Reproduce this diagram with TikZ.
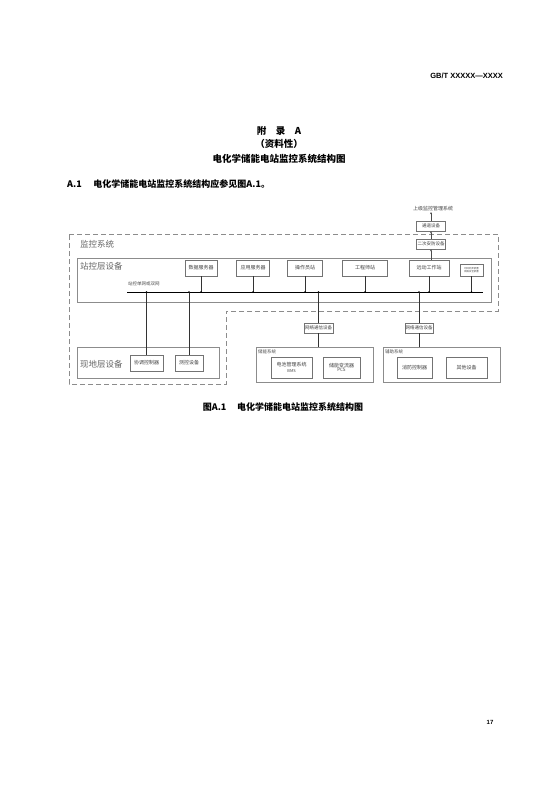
\documentclass[tikz,border=0pt]{standalone}
\usepackage{fontspec}
\setmainfont{Noto Sans CJK SC}
\newfontfamily\hdfont{Liberation Sans}
\usetikzlibrary{arrows.meta}
\begin{document}
\begin{tikzpicture}[
	x=1pt, y=-1pt,
	box/.style={ draw=black!55, thin, inner sep=0pt, align=center, text=black!75, font=\fontsize{5}{5.5}\selectfont },
	layer/.style={ draw=black!45, thin, inner sep=0pt },
	layertext/.style={ anchor=west, inner sep=0pt, text=black!60, font=\fontsize{8.5}{9}\selectfont },
	small/.style={ anchor=west, inner sep=0pt, text=black!70, font=\fontsize{4.5}{5}\selectfont },
	dot/.style={ circle, fill, inner sep=0pt, minimum size=1.8pt },
	link/.style={ black!80, semithick },
	up/.style={ black!70, thin, -{Stealth[length=2.2pt,width=2pt]} }
]
\useasboundingbox (0,0) rectangle (557,786);

% page text
\node at (503,76) (header) [anchor=east, inner sep=0pt, font=\hdfont\bfseries\fontsize{7.5}{8}\selectfont] {GB/T XXXXX—XXXX};
\node at (279,131) (appx) [font=\bfseries\fontsize{9.5}{10}\selectfont] {附\quad 录\quad A};
\node at (279,144) (kind) [font=\bfseries\fontsize{9.5}{10}\selectfont] {（资料性）};
\node at (279,159) (title) [font=\bfseries\fontsize{9.5}{10}\selectfont] {电化学储能电站监控系统结构图};
\node at (67,184) (clause) [anchor=west, inner sep=0pt, font=\bfseries\fontsize{9}{10}\selectfont] {A.1\hspace{1.3em}电化学储能电站监控系统结构应参见图A.1。};
\node at (283,407) (caption) [font=\bfseries\fontsize{9}{10}\selectfont] {图A.1\hspace{1.2em}电化学储能电站监控系统结构图};
\node at (490,722) (pageno) [font=\hdfont\bfseries\fontsize{6}{7}\selectfont] {17};

% monitoring system region
\draw[black!45, thin, dash pattern=on 5pt off 3pt] (69,234) -- (498,234) -- (498,311) -- (226,311) -- (226,384) -- (69,384) -- cycle;
\node at (80,244) (jkxt) [layertext] {监控系统};

% upper link
\node at (433,209) (shangji) [inner sep=0.5pt, text=black!75, font=\fontsize{5}{5.5}\selectfont] {上级监控管理系统};
\node at (431,226) (tongdao) [box, minimum width=29pt, minimum height=10pt, font=\fontsize{4.5}{5}\selectfont] {通道设备};
\node at (431,244) (anfang) [box, minimum width=29pt, minimum height=10pt, font=\fontsize{4.5}{5}\selectfont] {二次安防设备};

% station layer
\node at (284,280) (zhankong) [layer, minimum width=414pt, minimum height=44pt] {};
\node at (80,266) (zkcsb) [layertext] {站控层设备};
\node at (201,268) (shuju) [box, minimum width=32pt, minimum height=16pt] {数据服务器};
\node at (253,268) (yingyong) [box, minimum width=33pt, minimum height=16pt] {应用服务器};
\node at (305,268) (caozuo) [box, minimum width=35pt, minimum height=16pt] {操作员站};
\node at (365,268) (gongcheng) [box, minimum width=45pt, minimum height=16pt] {工程师站};
\node at (429,268) (yuandong) [box, minimum width=40pt, minimum height=16pt] {远动工作站};
\node at (471.5,270) (duishi) [box, minimum width=23pt, minimum height=12pt, font=\fontsize{2.4}{3}\selectfont] {时间同步装置\\网络安全装置};
\node at (128,284) (wangname) [small] {站控单网或双网};

\coordinate (busw) at (127,292);
\coordinate (buse) at (483,292);
\draw[black, line width=0.9pt] (busw) -- (buse);

\foreach \n in {shuju,yingyong,caozuo,gongcheng,yuandong,duishi} {
	\draw[link] (\n.south) -- (\n.south |- busw);
	\node at (\n.south |- busw) [dot] {};
}

\draw[up] (anfang.south |- yuandong.north) -- (anfang.south);
\draw[up] (anfang.north) -- (tongdao.south);
\draw[up] (tongdao.north) -- (tongdao.north |- shangji.south);

% field layer
\node at (148,362.5) (xiandi) [layer, minimum width=142pt, minimum height=31pt] {};
\node at (80,364) (xdcsb) [layertext] {现地层设备};
\node at (146.5,363) (xietiao) [box, minimum width=33pt, minimum height=16pt] {协调控制器};
\node at (189,363) (cekong) [box, minimum width=28pt, minimum height=16pt] {测控设备};

\draw[link] (busw -| xietiao.north) -- (xietiao.north);
\draw[link] (busw -| cekong.north) -- (cekong.north);
\node at (busw -| xietiao.north) [dot] {};
\node at (busw -| cekong.north) [dot] {};

% storage and auxiliary systems
\node at (318.5,328) (wangluoa) [box, minimum width=29pt, minimum height=10pt, font=\fontsize{4.5}{5}\selectfont] {网络通信设备};
\node at (419,328) (wangluob) [box, minimum width=28pt, minimum height=10pt, font=\fontsize{4.5}{5}\selectfont] {网络通信设备};

\node at (314.5,364.5) (chuneng) [layer, minimum width=117pt, minimum height=35pt] {};
\node at (258,352) (cnxt) [small] {储能系统};
\node at (291.5,367.5) (bms) [box, minimum width=41pt, minimum height=21pt] {电池管理系统\\[1pt]{\fontsize{4}{4}\selectfont BMS}};
\node at (341.5,367.5) (pcs) [box, minimum width=37pt, minimum height=21pt] {储能变流器\\[-1pt]{\fontsize{4.5}{4.5}\selectfont PCS}};

\node at (441.5,364.5) (fuzhu) [layer, minimum width=117pt, minimum height=35pt] {};
\node at (385,352) (fzxt) [small] {辅助系统};
\node at (414.5,367.5) (xiaofang) [box, minimum width=35pt, minimum height=21pt] {消防控制器};
\node at (466.5,367.5) (qita) [box, minimum width=41pt, minimum height=21pt] {其他设备};

\draw[link] (busw -| wangluoa.north) -- (wangluoa.north);
\draw[link] (busw -| wangluob.north) -- (wangluob.north);
\node at (busw -| wangluoa.north) [dot] {};
\node at (busw -| wangluob.north) [dot] {};
\draw[link] (wangluoa.south) -- (wangluoa.south |- chuneng.north);
\draw[link] (wangluob.south) -- (wangluob.south |- fuzhu.north);

\end{tikzpicture}
\end{document}
